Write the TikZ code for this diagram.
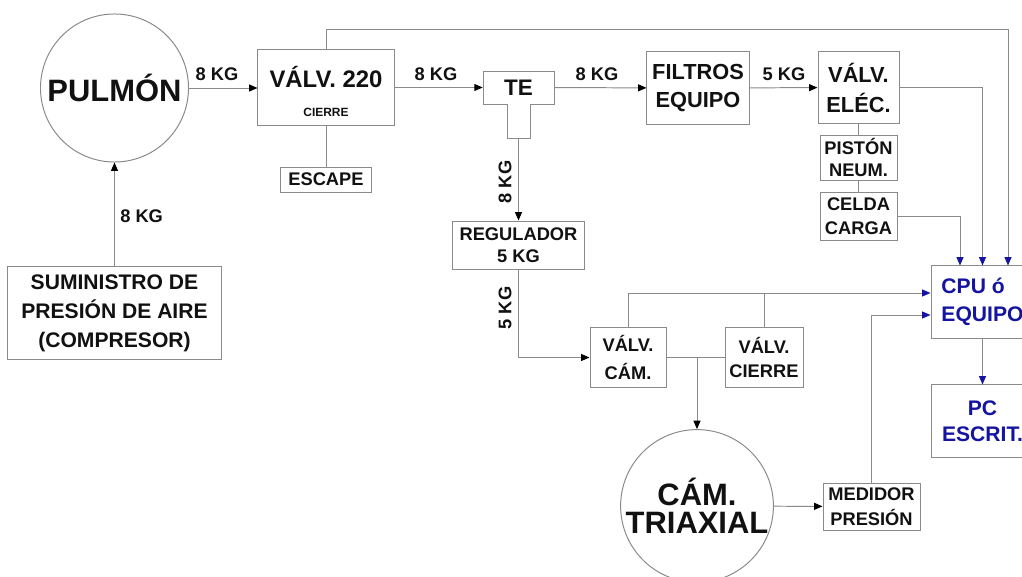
\documentclass[tikz,border=0pt]{standalone}
\usepackage{fontspec}
\setmainfont{Liberation Sans}
\usetikzlibrary{arrows.meta,calc}
\definecolor{wgray}{HTML}{8A8A8A}
\definecolor{cpublue}{HTML}{1414A0}
\definecolor{inkblk}{HTML}{111111}
\newcommand\fsz[2]{\fontsize{#1}{#2}\selectfont\bfseries}
\tikzset{
  wire/.style={draw=wgray,line width=.7pt},
  flow/.style={wire,-{Triangle[length=6pt,width=5pt,color=black]}},
  sig/.style={wire,-{Triangle[length=6pt,width=5pt,color=cpublue]}},
  blk/.style={rectangle,draw=wgray,fill=white,line width=.7pt,inner sep=0pt,align=center},
  tank/.style={circle,draw=wgray,fill=white,line width=.7pt,inner sep=0pt,minimum size=3.7cm,align=center},
  kg/.style={font=\fsz{13}{15},inner sep=0pt},
  cpubox/.style={blk,text=cpublue,font=\fsz{15}{19.8},minimum width=2.575cm,minimum height=1.8cm},
}

\begin{document}
\begin{tikzpicture}[x=0.025cm,y=-0.025cm,font=\bfseries,text=inkblk]
  \useasboundingbox (0,0) rectangle (1022,577);
  \clip (0,0) rectangle (1022,577);
  % supply and buffer tank
  \node[tank,font=\fsz{22}{24}] (pulmon) at (114.5,88) {PULMÓN};
  \node[blk,minimum width=5.325cm,minimum height=2.3cm,font=\fsz{15}{20.5}] (sumin) at (114.5,313) {SUMINISTRO DE\\PRESIÓN DE AIRE\\(COMPRESOR)};
  % main valve
  \node[blk,minimum width=3.4cm,minimum height=1.875cm] (v220) at (326,87.5) {};
  \node[anchor=base,font=\fsz{17}{19}] (v220name) at (326,87.5) {VÁLV. 220};
  \node[anchor=base,font=\fsz{8.5}{10}] (v220sub) at (326,116.5) {CIERRE};
  \node[blk,font=\fsz{13}{15},minimum width=2.25cm,minimum height=.625cm] (escape) at (326,179.5) {ESCAPE};
  % tee
  \draw[wire,fill=white] (483,71) -- (554,71) -- (554,104) -- (530,104) -- (530,138) -- (507,138) -- (507,104) -- (483,104) -- cycle;
  \node[inner sep=0pt,minimum width=1.775cm,minimum height=.825cm,font=\fsz{16}{18}] (te) at (518.5,87.5) {TE};
  \coordinate (tefoot) at (518.5,138);
  \node[blk,font=\fsz{13}{15.6},minimum width=3.275cm,minimum height=1.2cm] (regul) at (518.5,245) {REGULADOR\\5 KG};
  % upper line
  \node[blk,font=\fsz{15.5}{19.8},minimum width=2.55cm,minimum height=1.8cm] (filtros) at (698,88) {FILTROS\\EQUIPO};
  \node[blk,font=\fsz{15.5}{21.3},minimum width=2.025cm,minimum height=1.775cm] (velec) at (858.5,87.5) {VÁLV.\\ELÉC.};
  \node[blk,font=\fsz{13}{16.3},minimum width=1.925cm,minimum height=1.125cm] (piston) at (858.5,157.5) {PISTÓN\\NEUM.};
  \node[blk,font=\fsz{13}{17},minimum width=1.925cm,minimum height=1.2cm] (celda) at (858.5,216) {CELDA\\CARGA};
  % acquisition
  \node[cpubox,align=left] (cpu) at (982.5,302) {CPU ó\\EQUIPO};
  \node[cpubox,font=\fsz{15}{18.4}] (pc) at (982.5,421) {PC\\ESCRIT.};
  % chamber
  \node[blk,font=\fsz{13}{19.8},minimum width=1.9cm,minimum height=1.475cm] (vcam) at (628,357.5) {VÁLV.\\CÁM.};
  \node[blk,font=\fsz{13}{17.7},minimum width=1.95cm,minimum height=1.475cm] (vcierre) at (764,357.5) {VÁLV.\\CIERRE};
  \node[tank,font=\fsz{22}{20}] (triax) at (697,506) {CÁM.\\TRIAXIAL};
  \node[blk,font=\fsz{13}{17.7},minimum width=2.425cm,minimum height=1.175cm] (medidor) at (871.5,506.5) {MEDIDOR\\PRESIÓN};

  % air lines
  \draw[flow] (sumin) -- (pulmon);
  \node[kg,anchor=base west] (kg1) at (120,222.5) {8 KG};
  \draw[flow] (pulmon.east) -- (v220.west |- pulmon.east);
  \node[kg,anchor=base] (kg2) at (217,80.5) {8 KG};
  \draw[wire] (v220) -- (escape);
  \draw[flow] (v220) -- (te);
  \node[kg,anchor=base] (kg3) at (436,80.5) {8 KG};
  \draw[flow] (te) -- (filtros);
  \node[kg,anchor=base] (kg4) at (597,80.5) {8 KG};
  \draw[flow] (tefoot) -- (regul);
  \node[kg,rotate=90] (kg5) at (505,182) {8 KG};
  \draw[flow] (filtros) -- (velec);
  \node[kg,anchor=base] (kg6) at (784,80.5) {5 KG};
  \draw[wire] (velec) -- (piston);
  \draw[wire] (piston) -- (celda);
  \draw[flow] (regul.south) |- (vcam.west);
  \node[kg,rotate=90] (kg7) at (505,308) {5 KG};
  \draw[wire] (vcam) -- (vcierre);
  \draw[flow] (vcam.east -| triax.north) -- (triax.north);
  \draw[flow] (triax) -- (medidor);

  % signals to the cpu
  \coordinate (topbus) at (1008,29);
  \coordinate (cambus) at ($(cpu.west)+(0,-9)$);
  \draw[sig] (v220.north) |- (topbus) -- (topbus |- cpu.north);
  \draw[sig] (velec.east) -| (cpu.north);
  \draw[sig] (celda.east) -| ($(cpu.north)+(-22.5,0)$);
  \draw[sig] (vcam.north) |- (cambus);
  \draw[wire] (vcierre.north) -- (vcierre.north |- cambus);
  \draw[sig] (medidor.north) |- ($(cpu.west)+(0,13)$);
  \draw[sig] (cpu) -- (pc);
\end{tikzpicture}
\end{document}
